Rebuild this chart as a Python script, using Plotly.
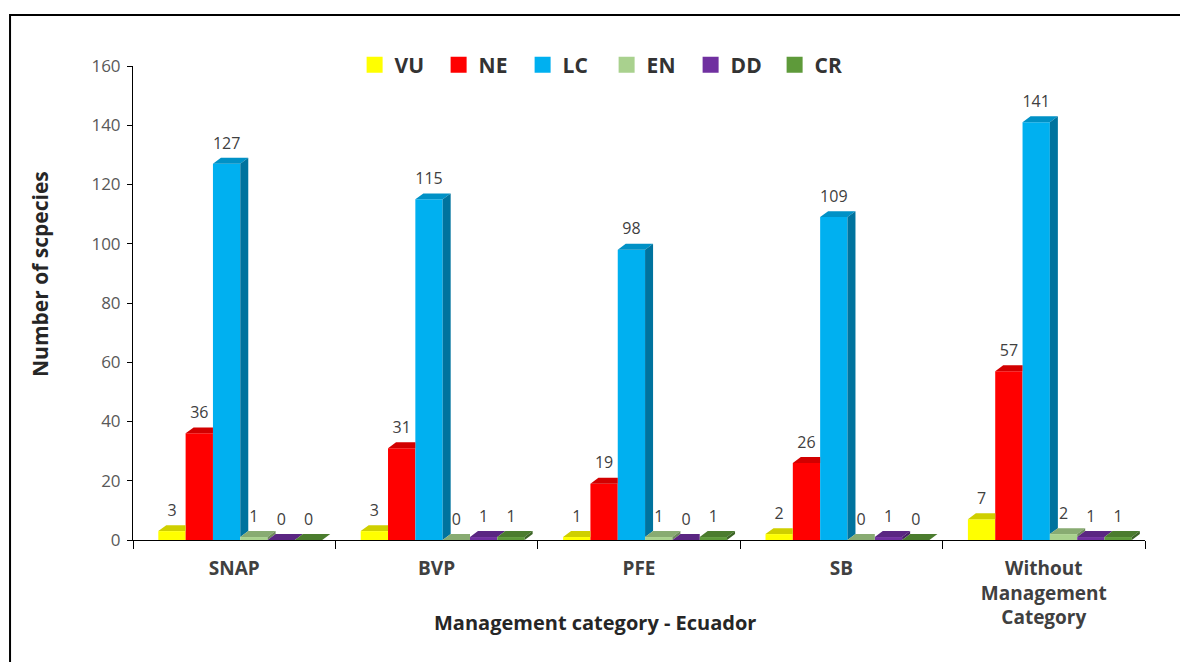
import plotly.graph_objects as go

# ---------------- data ----------------
categories = ["SNAP", "BVP", "PFE", "SB", "Without<br>Management<br>Category"]
series_names = ["VU", "NE", "LC", "EN", "DD", "CR"]
VU = [3, 3, 1, 2, 7]
NE = [36, 31, 19, 26, 57]
LC = [127, 115, 98, 109, 141]
EN = [1, 0, 1, 0, 2]
DD = [0, 1, 0, 1, 1]
CR = [0, 1, 1, 0, 1]
series_values = [VU, NE, LC, EN, DD, CR]
y_ticks = [0, 20, 40, 60, 80, 100, 120, 140, 160]

# ---------------- styling ----------------
front_colors = ["#FFFF00", "#FF0000", "#00B0F0", "#A9D18E", "#7030A0", "#5E9A3A"]
top_colors = ["#CFCF00", "#D20000", "#0091C6", "#88AB72", "#5A2682", "#4B7C2E"]
side_colors = ["#A8A800", "#A80000", "#00739E", "#6E8C5C", "#481F6A", "#3C6425"]

BAR_W = 0.135        # bar width in category units
GROUP_SHIFT = 0.03   # group centre shift (depth compensation)
DX = 0.0395          # depth offset in x (category units)
DY = 2.0             # depth offset in y (data units)
LABEL_PAD = 1.8      # extra lift of value labels (data units)
FONT = "Open Sans"

fig = go.Figure()

n_ser = len(series_values)
n_cat = len(categories)


def bar_x(i, j):
    return i + GROUP_SHIFT + (j - (n_ser - 1) / 2) * BAR_W


# front faces (bars)
for j, (name, vals) in enumerate(zip(series_names, series_values)):
    fig.add_trace(go.Bar(
        x=[bar_x(i, j) for i in range(n_cat)],
        y=vals,
        width=BAR_W,
        marker=dict(color=front_colors[j], line=dict(width=0)),
        name=name,
        showlegend=False,
        hoverinfo="skip",
    ))

# top & side faces (3D look), computed from the data through the axes
for j, vals in enumerate(series_values):
    tx, ty, sx, sy = [], [], [], []
    for i in range(n_cat):
        v = vals[i]
        xc = bar_x(i, j)
        x0, x1 = xc - BAR_W / 2, xc + BAR_W / 2
        nxt = series_values[j + 1][i] if j + 1 < n_ser else None
        # top face
        if nxt is not None and nxt > v:
            tx += [x0, x1, x1, x0 + DX, x0, None]
            ty += [v, v, v + DY, v + DY, v, None]
        else:
            tx += [x0, x1, x1 + DX, x0 + DX, x0, None]
            ty += [v, v, v + DY, v + DY, v, None]
        # side face (only the part not hidden by the next bar)
        low = 0 if nxt is None else nxt
        if low < v or nxt is None:
            sx += [x1, x1, x1 + DX, x1 + DX, x1, None]
            sy += [low, v, v + DY, low + DY, low, None]
    fig.add_trace(go.Scatter(x=tx, y=ty, mode="lines", fill="toself",
                             fillcolor=top_colors[j], line=dict(width=0),
                             showlegend=False, hoverinfo="skip"))
    if sx:
        fig.add_trace(go.Scatter(x=sx, y=sy, mode="lines", fill="toself",
                                 fillcolor=side_colors[j], line=dict(width=0),
                                 showlegend=False, hoverinfo="skip"))

# data labels
for j, vals in enumerate(series_values):
    fig.add_trace(go.Scatter(
        x=[bar_x(i, j) for i in range(n_cat)],
        y=[v + DY + LABEL_PAD for v in vals],
        mode="text",
        text=[str(v) for v in vals],
        textposition="top center",
        textfont=dict(family=FONT, size=16, color="#404040"),
        showlegend=False, hoverinfo="skip",
    ))

# legend entries
for j, name in enumerate(series_names):
    fig.add_trace(go.Scatter(
        x=[None], y=[None], mode="markers", name=name,
        marker=dict(symbol="square", size=17, color=front_colors[j]),
    ))

fig.update_layout(
    width=1180, height=662,
    margin=dict(l=133, r=35, t=66, b=122),
    paper_bgcolor="white", plot_bgcolor="white",
    font=dict(family=FONT, color="#404040"),
    barmode="overlay",
    legend=dict(
        orientation="h", x=0.468, xanchor="center", y=1.002, yanchor="middle",
        font=dict(family=FONT, size=21, color="#333333", weight="bold"),
        entrywidth=39, entrywidthmode="pixels",
        bgcolor="rgba(0,0,0,0)",
    ),
    xaxis=dict(
        range=[-0.5, n_cat - 0.5],
        tickvals=list(range(n_cat)), ticktext=categories,
        ticks="", showgrid=False, zeroline=False,
        showline=True, linecolor="black", linewidth=1,
        tickfont=dict(family=FONT, size=19, color="#404040", weight="bold"),
        ticklabelstandoff=11,
        minor=dict(tickvals=[k - 0.5 for k in range(n_cat + 1)], ticks="outside",
                   ticklen=8, tickcolor="black", tickwidth=1, showgrid=False),
    ),
    yaxis=dict(
        range=[0, 160], tickvals=y_ticks,
        ticks="outside", ticklen=5, tickcolor="black",
        showgrid=False, zeroline=False,
        showline=True, linecolor="black", linewidth=1,
        tickfont=dict(family=FONT, size=17, color="#595959"),
        ticklabelstandoff=3,
    ),
    annotations=[
        dict(text="Number of scpecies", xref="paper", yref="paper",
             x=-0.092, y=0.561, textangle=-90, showarrow=False,
             xanchor="center", yanchor="middle",
             font=dict(family=FONT, size=21, color="#262626", weight="bold")),
        dict(text="Management category - Ecuador", xref="paper", yref="paper",
             x=0.4565, y=-0.173, showarrow=False,
             xanchor="center", yanchor="middle",
             font=dict(family=FONT, size=20, color="#262626", weight="bold")),
    ],
    shapes=[
        dict(type="rect", xref="paper", yref="paper",
             x0=-0.1215, x1=1.06, y0=-0.3, y1=1.1076,
             line=dict(color="black", width=2), fillcolor="rgba(0,0,0,0)",
             layer="above"),
    ],
)

fig.write_html("out.html")
